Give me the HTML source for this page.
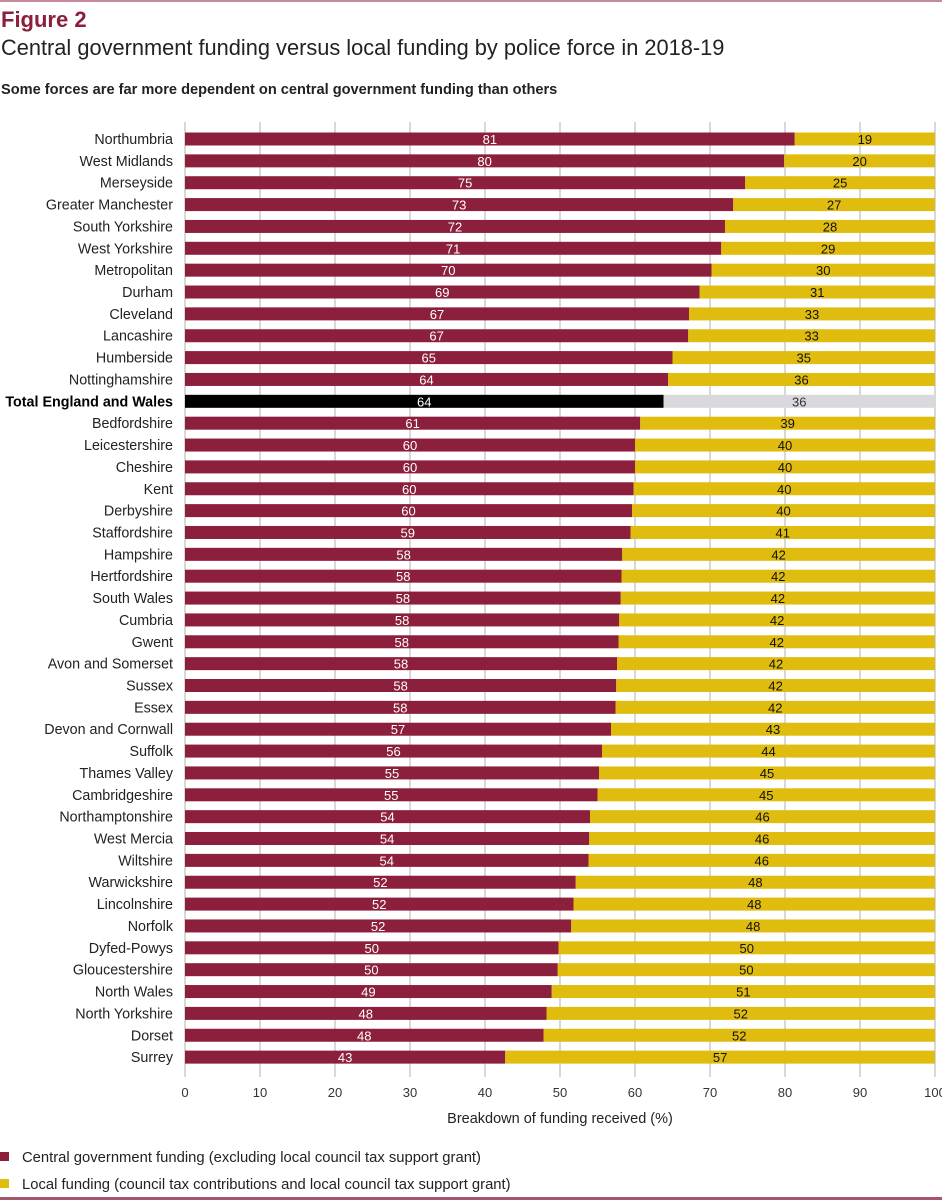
<!DOCTYPE html>
<html><head><meta charset="utf-8"><style>
body{margin:0;background:#fff;font-family:"Liberation Sans",Arial,sans-serif;}
svg{display:block}
</style></head><body>
<svg id="chart" width="942" height="1200" xmlns="http://www.w3.org/2000/svg" font-family="Liberation Sans, Arial, sans-serif">
<rect x="0" y="0" width="942" height="2" fill="#c48a98"/>
<text x="1" y="27" font-size="22" font-weight="bold" fill="#8c1f3b">Figure 2</text>
<text x="1" y="55" font-size="21.8" fill="#222">Central government funding versus local funding by police force in 2018-19</text>
<text x="1" y="94" font-size="14.6" font-weight="bold" fill="#222">Some forces are far more dependent on central government funding than others</text>
<g id="grid"></g><g id="bars"></g><g id="xaxis"></g>
<text x="560" y="1123" font-size="14.5" text-anchor="middle" fill="#222">Breakdown of funding received (%)</text>
<rect x="0" y="1152" width="9" height="9" fill="#8c1f3b"/>
<text x="22" y="1162" font-size="14.8" fill="#222">Central government funding (excluding local council tax support grant)</text>
<rect x="0" y="1179" width="9" height="9" fill="#dfbc0e"/>
<text x="22" y="1189" font-size="14.8" fill="#222">Local funding (council tax contributions and local council tax support grant)</text>
<rect x="0" y="1197" width="942" height="3" fill="#a5566b"/>
</svg>
<script>
const categories=["Northumbria","West Midlands","Merseyside","Greater Manchester","South Yorkshire","West Yorkshire","Metropolitan","Durham","Cleveland","Lancashire","Humberside","Nottinghamshire","Total England and Wales","Bedfordshire","Leicestershire","Cheshire","Kent","Derbyshire","Staffordshire","Hampshire","Hertfordshire","South Wales","Cumbria","Gwent","Avon and Somerset","Sussex","Essex","Devon and Cornwall","Suffolk","Thames Valley","Cambridgeshire","Northamptonshire","West Mercia","Wiltshire","Warwickshire","Lincolnshire","Norfolk","Dyfed-Powys","Gloucestershire","North Wales","North Yorkshire","Dorset","Surrey"];
const centralValues=[81.3,79.9,74.7,73.1,72,71.5,70.2,68.6,67.2,67.1,65,64.4,63.8,60.7,60,60,59.8,59.6,59.4,58.3,58.2,58.1,57.9,57.8,57.6,57.5,57.4,56.8,55.6,55.2,55,54,53.9,53.8,52.1,51.8,51.5,49.8,49.7,48.9,48.2,47.8,42.7];
const centralLabels=[81,80,75,73,72,71,70,69,67,67,65,64,64,61,60,60,60,60,59,58,58,58,58,58,58,58,58,57,56,55,55,54,54,54,52,52,52,50,50,49,48,48,43];
const localLabels=[19,20,25,27,28,29,30,31,33,33,35,36,36,39,40,40,40,40,41,42,42,42,42,42,42,42,42,43,44,45,45,46,46,46,48,48,48,50,50,51,52,52,57];
const xTicks=[0,10,20,30,40,50,60,70,80,90,100];
const NS="http://www.w3.org/2000/svg";
const x=v=>185+v*7.5;
const yc=i=>139+i*21.86;
function mk(tag,attrs,parent,txt){const e=document.createElementNS(NS,tag);for(const k in attrs)e.setAttribute(k,attrs[k]);if(txt!==undefined)e.textContent=txt;parent.appendChild(e);return e;}
const grid=document.getElementById('grid'),bars=document.getElementById('bars'),xa=document.getElementById('xaxis');
xTicks.forEach(t=>{
 const l=mk('line',{x1:x(t),x2:x(t),y1:122,y2:1077,stroke:'#b0b0b0','stroke-width':1},grid);
 
 
 const tx=mk('text',{x:x(t),y:1097,'font-size':13,'text-anchor':'middle',fill:'#333'},xa,t);
 
 
});
categories.forEach((c,i)=>{
 const tot=c==="Total England and Wales";
 const y=yc(i);
 const lab=mk('text',{x:173,y:y+5,'font-size':tot?14.3:14.3,'text-anchor':'end',fill:tot?'#000':'#222','font-weight':tot?'bold':'normal'},bars,c);
 
 
 const b1=mk('rect',{x:x(0),y:y-6.5,width:x(centralValues[i])-x(0),height:13,fill:tot?'#000':'#8c1f3b'},bars);
 
 
 const b2=mk('rect',{x:x(centralValues[i]),y:y-6.5,width:x(100)-x(centralValues[i]),height:13,fill:tot?'#d8d8dd':'#dfbc0e'},bars);
 
 
 const t1=mk('text',{x:(x(0)+x(centralValues[i]))/2,y:y+5,'font-size':13,'text-anchor':'middle',fill:'#fff'},bars,centralLabels[i]);
 
 
 const t2=mk('text',{x:(x(centralValues[i])+x(100))/2,y:y+5,'font-size':13,'text-anchor':'middle',fill:tot?'#333':'#111'},bars,localLabels[i]);
 
 
});
</script>
</body></html>
